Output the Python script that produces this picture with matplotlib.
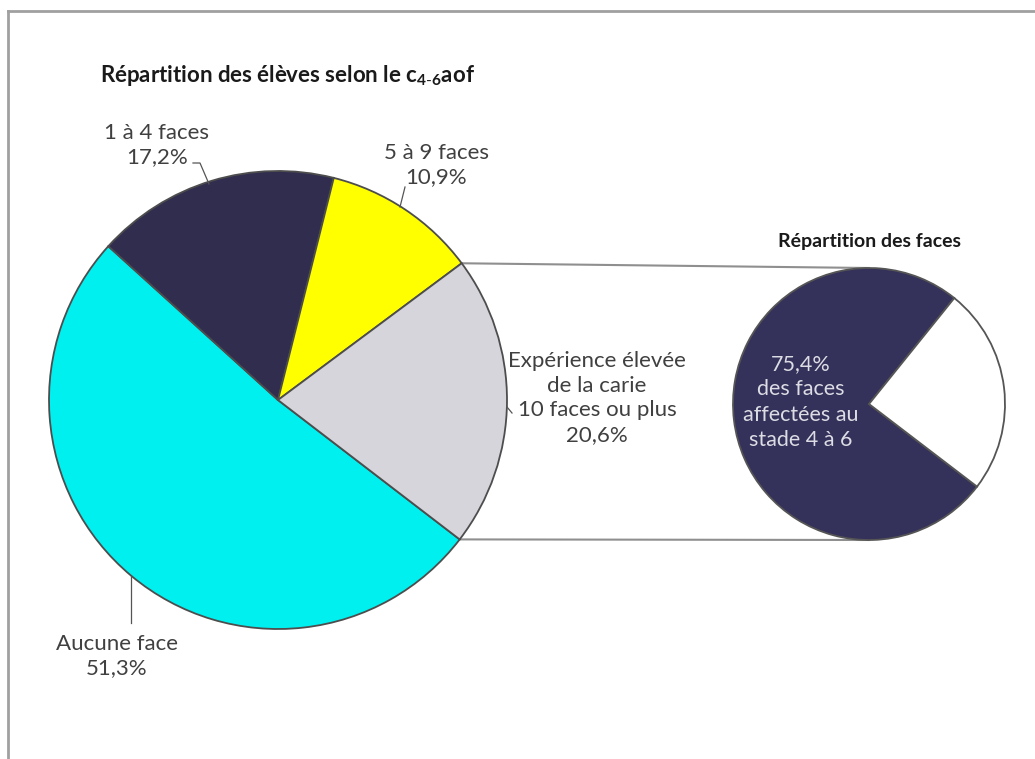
import numpy as np
import matplotlib.pyplot as plt

plt.rcParams['font.family'] = ['Lato', 'DejaVu Sans']
plt.rcParams['mathtext.fontset'] = 'custom'
plt.rcParams['mathtext.rm'] = 'Lato'
plt.rcParams['mathtext.bf'] = 'Lato:bold'

# main pie: share of pupils by number of affected faces
categories = ["Aucune face", "1 à 4 faces", "5 à 9 faces",
              "Expérience élevée\nde la carie\n10 faces ou plus"]
values = [51.3, 17.2, 10.9, 20.6]
colors = ['#00F0F0', '#302D4F', '#FFFF00', '#D5D5DB']

# secondary pie: faces at stage 4 to 6 among the high-experience group
sub_values = [75.4, 24.6]
sub_colors = ['#34315A', '#FFFFFF']
sub_label = "des faces\naffectées au\nstade 4 à 6"

W, H = 1035, 759


def Y(y):
    # convert a top-down pixel row to axis coordinates
    return H - y


def pct(v):
    return f"{v:.1f}%".replace('.', ',')


fig = plt.figure(figsize=(W / 100, H / 100), dpi=100)
ax = fig.add_axes([0, 0, 1, 1])

c1, r1 = (278, Y(400)), 229
c2, r2 = (869, Y(404)), 136
start = -37.5

wedges, _ = ax.pie(values, colors=colors, center=c1, radius=r1, startangle=start,
                   counterclock=False,
                   wedgeprops=dict(edgecolor='#4d4d4d', linewidth=1.3))
ax.pie(sub_values, colors=sub_colors, center=c2, radius=r2, startangle=-37.4,
       counterclock=False,
       wedgeprops=dict(edgecolor='#555555', linewidth=1.3))

ax.set_xlim(0, W)
ax.set_ylim(0, H)
ax.set_aspect('equal')
ax.axis('off')

# connectors from the grey slice to the top and bottom of the small pie
g = wedges[3]
for ang, yy in [(g.theta2, c2[1] + r2), (g.theta1, c2[1] - r2)]:
    x0 = c1[0] + r1 * np.cos(np.radians(ang))
    y0 = c1[1] + r1 * np.sin(np.radians(ang))
    ax.plot([x0, c2[0]], [y0, yy], color='#8f8f8f', lw=1.5, zorder=0)

txt = dict(color='#404040', fontsize=16, ha='center', va='center', linespacing=1.3)
ax.text(157, Y(145), f"{categories[1]}\n{pct(values[1])}", **txt)
ax.text(436, Y(165), f"{categories[2]}\n{pct(values[2])}", **txt)
ax.text(597, Y(398), f"{categories[3]}\n{pct(values[3])}", **txt)
ax.text(117, Y(656), f"{categories[0]}\n{pct(values[0])}", **txt)

# leader lines
lc = dict(color='#555555', lw=0.9)
ax.plot([193, 200, 209], [Y(163), Y(163), Y(184)], **lc)
ax.plot([405, 400], [Y(187), Y(207)], **lc)
ax.plot([507, 512], [Y(407), Y(413)], **lc)
ax.plot([131, 131], [Y(576), Y(623)], **lc)

ax.text(801, Y(402), f"{pct(sub_values[0])}\n{sub_label}", color='#DCDCE4',
        fontsize=15.5, ha='center', va='center', linespacing=1.35)

ax.text(100, Y(75), r"Répartition des élèves selon le c$_{\mathbf{4\text{-}6}}$aof",
        fontsize=16, fontweight='bold', color='#1a1a1a', ha='left', va='center')
ax.text(870, Y(241), "Répartition des faces", fontsize=14, fontweight='bold',
        color='#1a1a1a', ha='center', va='center')

# chart frame (top and left edges visible)
ax.plot([8, W], [Y(11), Y(11)], color='#a0a0a0', lw=2, clip_on=False)
ax.plot([8, 8], [Y(11), 0], color='#a0a0a0', lw=2, clip_on=False)

fig.savefig('out.png', dpi=100)
